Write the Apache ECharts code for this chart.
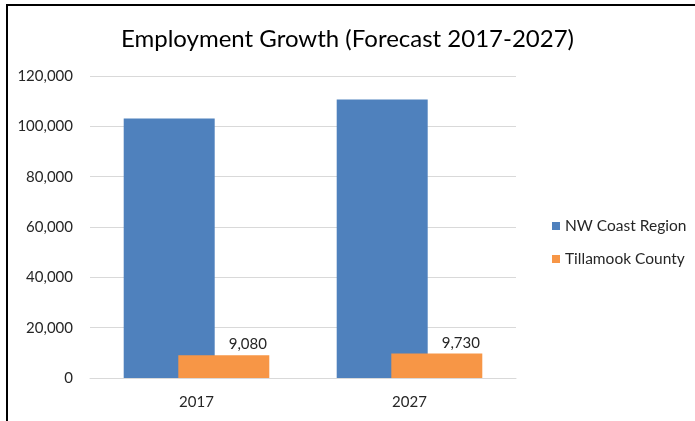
<!DOCTYPE html>
<html>
<head>
<meta charset="utf-8">
<title>Employment Growth</title>
<script src="https://cdn.jsdelivr.net/npm/echarts@6/dist/echarts.min.js"></script>
<style>
  html, body { margin: 0; padding: 0; background: #fff; }
  #chart { width: 695px; height: 421px; }
</style>
</head>
<body>
<div id="chart"></div>
<script>
const years = ['2017', '2027']
const nwCoast = [103100, 110700]
const tillamook = [9080, 9730]
const yTicks = { min: 0, max: 120000, interval: 20000 }

const fmt = v => Number(v).toLocaleString('en-US')
const font = 'Lato, "Liberation Sans", sans-serif'

const chart = echarts.init(document.getElementById('chart'))

chart.setOption({
  animation: false,
  textStyle: { fontFamily: font },
  // outer frame (only top and left edges are visible in the picture)
  graphic: [{
    type: 'rect',
    z: -10,
    shape: { x: 7, y: 5, width: 1000, height: 1000 },
    style: { fill: 'none', stroke: '#000', lineWidth: 2 }
  }],
  title: {
    text: 'Employment Growth (Forecast 2017-2027)',
    left: 'center',
    top: 22,
    textStyle: { fontFamily: font, fontSize: 24, fontWeight: 'normal', color: '#000' }
  },
  legend: {
    orient: 'vertical',
    left: 547,
    top: 213,
    itemWidth: 8,
    itemHeight: 8,
    itemGap: 17,
    icon: 'rect',
    textStyle: { fontFamily: font, fontSize: 15.5, color: '#262626' },
    data: ['NW Coast Region', 'Tillamook County']
  },
  grid: { left: 90, right: 179, top: 76, bottom: 43 },
  xAxis: {
    type: 'category',
    data: years,
    axisLine: { lineStyle: { color: '#d9d9d9' } },
    axisTick: { show: false },
    axisLabel: { fontFamily: font, fontSize: 15, color: '#262626', margin: 17 }
  },
  yAxis: {
    type: 'value',
    min: yTicks.min,
    max: yTicks.max,
    interval: yTicks.interval,
    axisLine: { show: false },
    axisTick: { show: false },
    splitLine: { lineStyle: { color: '#d9d9d9' } },
    axisLabel: { fontFamily: font, fontSize: 15, color: '#262626', margin: 17, formatter: fmt }
  },
  series: [
    {
      name: 'NW Coast Region',
      type: 'bar',
      data: nwCoast,
      barWidth: 91,
      barGap: '-40%',
      itemStyle: { color: '#4f81bd' }
    },
    {
      name: 'Tillamook County',
      type: 'bar',
      data: tillamook,
      barWidth: 91,
      itemStyle: { color: '#f79646' },
      label: {
        show: true,
        position: 'top',
        distance: 3,
        offset: [24, 0],
        fontFamily: font,
        fontSize: 15,
        color: '#262626',
        formatter: p => fmt(p.value)
      }
    }
  ]
})
</script>
</body>
</html>
